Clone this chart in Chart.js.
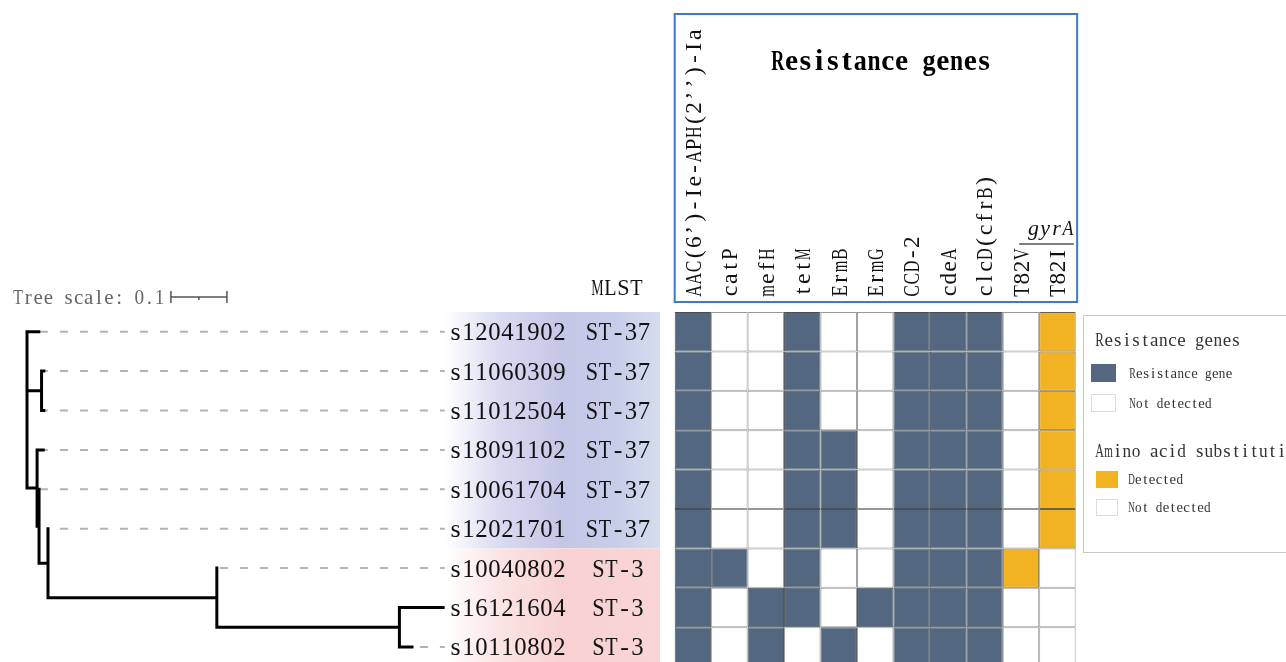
<!DOCTYPE html>
<html>
<head>
<meta charset="utf-8">
<title>Resistance genes</title>
<script src="https://cdn.jsdelivr.net/npm/chart.js@4.4.1/dist/chart.umd.min.js"></script>
<style>
  html, body { margin: 0; padding: 0; background: #fff; overflow: hidden; }
  canvas { display: block; }
</style>
</head>
<body>
<canvas id="chart" width="1286" height="662"></canvas>
<script>
const samples = ['s12041902', 's11060309', 's11012504', 's18091102', 's10061704', 's12021701', 's10040802', 's16121604', 's10110802']
const mlst = ['ST-37', 'ST-37', 'ST-37', 'ST-37', 'ST-37', 'ST-37', 'ST-3', 'ST-3', 'ST-3']

const genes = ['AAC(6’)-Ie-APH(2’’)-Ia', 'catP', 'mefH', 'tetM', 'ErmB', 'ErmG', 'CCD-2', 'cdeA', 'clcD(cfrB)']
// 1 = gene found, 0 = not detected (one row per sample)
const geneHits = [
  [1, 0, 0, 1, 0, 0, 1, 1, 1],
  [1, 0, 0, 1, 0, 0, 1, 1, 1],
  [1, 0, 0, 1, 0, 0, 1, 1, 1],
  [1, 0, 0, 1, 1, 0, 1, 1, 1],
  [1, 0, 0, 1, 1, 0, 1, 1, 1],
  [1, 0, 0, 1, 1, 0, 1, 1, 1],
  [1, 1, 0, 1, 0, 0, 1, 1, 1],
  [1, 0, 1, 1, 0, 1, 1, 1, 1],
  [1, 0, 1, 0, 1, 0, 1, 1, 1]
]
const gyrA = ['T82V', 'T82I']
const gyrAHits = [
  [0, 1], [0, 1], [0, 1], [0, 1], [0, 1], [0, 1], [1, 0], [0, 0], [0, 0]
]

// tree: internal nodes (0 = root) with parent index and distance from root
const nodeParent = [-1, 0, 0, 2, 3, 4, 5]
const nodeDepth = [0, 0.026, 0.018, 0.0215, 0.0375, 0.339, 0.665]
// leaves, same order as samples
const leafParent = [0, 1, 1, 2, 3, 4, 5, 6, 6]
const leafDepth = [0.021, 0.03, 0.03, 0.029, 0.023, 0.0375, 0.339, 0.743, 0.6875]
const treeScale = 0.1

// Layout
const W = 1286, H = 662
const TREE_X0 = 27, TREE_PX = 560
const ROW_TOP = 312, ROW_H = 39.4
const HEAT_X0 = 674.7, COL_W = 36.45
const DASH_END = 0.746, DASH_ORIGIN = 0.023
const BAND_X0 = 445, BAND_X1 = 660
const SCALE_START = 0.257, SCALE_Y = 297

const DARK = '#536880'
const ORANGE = '#f2b322'
const SERIF = '"Liberation Serif", "DejaVu Serif", serif'

// internal node y = middle of its children
const nodeY = [], nodeSpan = []
for (let n = nodeParent.length - 1; n >= 0; n--) {
  const ys = []
  leafParent.forEach((p, i) => { if (p === n) ys.push(i) })
  nodeParent.forEach((p, i) => { if (p === n) ys.push(nodeY[i]) })
  nodeSpan[n] = [Math.min(...ys), Math.max(...ys)]
  nodeY[n] = (nodeSpan[n][0] + nodeSpan[n][1]) / 2
}

const treePts = []
const gap = () => treePts.push({ x: 0, y: null })
nodeParent.forEach((p, n) => {
  treePts.push({ x: nodeDepth[n], y: nodeSpan[n][0] }, { x: nodeDepth[n], y: nodeSpan[n][1] })
  gap()
  if (p >= 0) {
    treePts.push({ x: nodeDepth[p], y: nodeY[n] }, { x: nodeDepth[n], y: nodeY[n] })
    gap()
  }
})
leafParent.forEach((p, i) => {
  treePts.push({ x: nodeDepth[p], y: i }, { x: leafDepth[i], y: i })
  gap()
})

function cells(value) {
  const pts = []
  geneHits.forEach((row, r) => row.forEach((v, c) => {
    if (v === value) pts.push({ x: [c - 0.5, c + 0.5], y: r })
  }))
  gyrAHits.forEach((row, r) => row.forEach((v, c) => {
    const cc = genes.length + c
    if (v === value) pts.push({ x: [cc - 0.5, cc + 0.5], y: r })
  }))
  return pts
}

const cellStyle = {
  type: 'bar',
  indexAxis: 'y',
  xAxisID: 'xHeat',
  yAxisID: 'yRow',
  barThickness: ROW_H,
  grouped: false,
  borderWidth: 1,
  borderSkipped: false,
  inflateAmount: 0
}

const dashSets = samples.map((s, i) => ({
  type: 'line',
  xAxisID: 'xTree',
  yAxisID: 'yRow',
  data: [{ x: leafDepth[i], y: i }, { x: DASH_END, y: i }],
  borderColor: '#b3b3b3',
  borderWidth: 2,
  borderDash: [8, 12],
  borderDashOffset: ((leafDepth[i] - DASH_ORIGIN) * TREE_PX) % 20,
  pointRadius: 0,
  order: 5
}))

// SimSun-like text: every glyph gets the same advance
function monoText(ctx, str, x, y, adv, align) {
  const total = adv * str.length
  const x0 = align === 'center' ? x - total / 2 : align === 'right' ? x - total : x
  ctx.save()
  ctx.textAlign = 'center'
  ctx.textBaseline = 'alphabetic'
  for (let i = 0; i < str.length; i++) {
    const ch = str[i]
    const w = ctx.measureText(ch).width
    const s = w > adv * 0.95 ? adv * 0.95 / w : 1
    ctx.save()
    ctx.translate(x0 + adv * (i + 0.5), y)
    ctx.scale(s, 1)
    ctx.fillText(ch, 0, 0)
    ctx.restore()
  }
  ctx.restore()
}

const decor = {
  id: 'decor',
  beforeDatasetsDraw(chart) {
    const ctx = chart.ctx
    const yRow = chart.scales.yRow
    const blueTop = yRow.getPixelForValue(-0.5)
    const split = yRow.getPixelForValue(5.5)
    const bottom = yRow.getPixelForValue(samples.length - 0.5)

    const blue = ctx.createLinearGradient(BAND_X0, 0, BAND_X1, 0)
    blue.addColorStop(0, '#ffffff')
    blue.addColorStop(0.25, '#d9dbf1')
    blue.addColorStop(0.55, '#c4c6e6')
    blue.addColorStop(0.8, '#c8cde9')
    blue.addColorStop(1, '#d6ddef')
    const pink = ctx.createLinearGradient(BAND_X0, 0, BAND_X1, 0)
    pink.addColorStop(0, '#ffffff')
    pink.addColorStop(0.25, '#fbe4e4')
    pink.addColorStop(0.55, '#f8d2d3')
    pink.addColorStop(1, '#f9d5d5')
    ctx.save()
    ctx.fillStyle = blue
    ctx.fillRect(BAND_X0, blueTop, BAND_X1 - BAND_X0, split - blueTop)
    ctx.fillStyle = pink
    ctx.fillRect(BAND_X0, split, BAND_X1 - BAND_X0, bottom - split)
    ctx.restore()
  },
  afterDatasetsDraw(chart) {
    const ctx = chart.ctx
    const { xTree, xHeat, yRow } = chart.scales
    ctx.save()

    // sample names and MLST
    ctx.fillStyle = '#111'
    ctx.font = '26px ' + SERIF
    samples.forEach((s, i) => {
      const y = yRow.getPixelForValue(i) + 8.5
      monoText(ctx, s, 449, y, 13, 'left')
      monoText(ctx, mlst[i], 618, y, 13, 'center')
    })
    ctx.font = '23px ' + SERIF
    monoText(ctx, 'MLST', 617, 295, 13, 'center')

    // column headers (rotated)
    ctx.font = '24px ' + SERIF
    genes.concat(gyrA).forEach((g, c) => {
      ctx.save()
      ctx.translate(xHeat.getPixelForValue(c), 297)
      ctx.rotate(-Math.PI / 2)
      monoText(ctx, g, 0, 7.8, 12.2, 'left')
      ctx.restore()
    })

    // gyrA bracket
    const gx0 = xHeat.getPixelForValue(genes.length - 0.05)
    const gx1 = xHeat.getPixelForValue(genes.length + gyrA.length - 0.55)
    ctx.strokeStyle = '#555'
    ctx.lineWidth = 1.5
    ctx.beginPath()
    ctx.moveTo(gx0, 244)
    ctx.lineTo(gx1, 244)
    ctx.stroke()
    ctx.font = 'italic 22px ' + SERIF
    monoText(ctx, 'gyrA', gx1, 235, 11.5, 'right')

    // header box and title
    const bx0 = xHeat.getPixelForValue(-0.5)
    const bx1 = xHeat.getPixelForValue(genes.length + gyrA.length - 0.5)
    ctx.strokeStyle = '#3b7cc2'
    ctx.lineWidth = 2
    ctx.strokeRect(bx0, 14, bx1 - bx0 + 1.5, 288)
    ctx.font = 'bold 30px ' + SERIF
    ctx.fillStyle = '#000'
    monoText(ctx, 'Resistance genes', 771, 70, 13.75, 'left')

    // tree scale
    const sx0 = xTree.getPixelForValue(SCALE_START)
    const sx1 = xTree.getPixelForValue(SCALE_START + treeScale)
    ctx.strokeStyle = '#555'
    ctx.lineWidth = 1.5
    ctx.beginPath()
    ctx.moveTo(sx0, SCALE_Y); ctx.lineTo(sx1, SCALE_Y)
    ctx.moveTo(sx0, SCALE_Y - 6); ctx.lineTo(sx0, SCALE_Y + 6)
    ctx.moveTo(sx1, SCALE_Y - 6); ctx.lineTo(sx1, SCALE_Y + 6)
    ctx.moveTo((sx0 + sx1) / 2, SCALE_Y); ctx.lineTo((sx0 + sx1) / 2, SCALE_Y + 3)
    ctx.stroke()
    ctx.fillStyle = '#666'
    ctx.font = '21px ' + SERIF
    monoText(ctx, 'Tree scale: ' + treeScale, 13, SCALE_Y + 7, 10.1, 'left')

    // legend
    ctx.strokeStyle = '#c8c8c8'
    ctx.lineWidth = 1
    ctx.strokeRect(1083.5, 315.5, 240, 237)
    ctx.fillStyle = '#333'
    ctx.font = '19px ' + SERIF
    monoText(ctx, 'Resistance genes', 1095, 346, 9.1, 'left')
    monoText(ctx, 'Amino acid substitutions', 1095, 457, 9.1, 'left')
    const items = [
      [DARK, 'Resistance gene', 1091, 364, 25, 18, 1129],
      ['#fff', 'Not detected', 1091, 394, 25, 18, 1129],
      [ORANGE, 'Detected', 1096, 471, 22, 17, 1128],
      ['#fff', 'Not detected', 1096, 499, 22, 17, 1128]
    ]
    ctx.font = '15px ' + SERIF
    items.forEach(([col, label, x, y, w, h, tx]) => {
      ctx.fillStyle = col
      ctx.fillRect(x, y, w, h)
      ctx.strokeStyle = col === '#fff' ? '#dddddd' : col
      ctx.strokeRect(x + 0.5, y + 0.5, w - 1, h - 1)
      ctx.fillStyle = '#333'
      monoText(ctx, label, tx, y + h / 2 + 4.8, 6.9, 'left')
    })
    ctx.restore()
  }
}

const hiddenAxis = { type: 'linear', display: false, offset: false, grace: 0, ticks: { display: false }, grid: { display: false } }

new Chart(document.getElementById('chart'), {
  type: 'bar',
  data: {
    datasets: [
      {
        type: 'line',
        xAxisID: 'xTree',
        yAxisID: 'yRow',
        data: treePts,
        borderColor: '#000',
        borderWidth: 3,
        borderCapStyle: 'square',
        borderJoinStyle: 'miter',
        spanGaps: false,
        pointRadius: 0,
        order: 1
      },
      { ...cellStyle, data: cells(1).filter(p => p.x[0] < genes.length - 0.5), backgroundColor: DARK, borderColor: '#4a4f55', order: 3 },
      { ...cellStyle, data: cells(1).filter(p => p.x[0] > genes.length - 1), backgroundColor: ORANGE, borderColor: '#6e6246', order: 3 },
      { ...cellStyle, data: cells(0), backgroundColor: '#ffffff', borderColor: '#979797', order: 4 },
      ...dashSets
    ]
  },
  options: {
    responsive: false,
    animation: false,
    devicePixelRatio: 1,
    layout: { padding: 0 },
    plugins: {
      legend: { display: false },
      tooltip: { enabled: false }
    },
    scales: {
      xTree: { ...hiddenAxis, min: -TREE_X0 / TREE_PX, max: (W - TREE_X0) / TREE_PX },
      xHeat: { ...hiddenAxis, min: -0.5 - HEAT_X0 / COL_W, max: -0.5 + (W - HEAT_X0) / COL_W },
      yRow: { ...hiddenAxis, reverse: true, min: -0.5 - ROW_TOP / ROW_H, max: -0.5 + (H - ROW_TOP) / ROW_H }
    }
  },
  plugins: [decor]
})
</script>
</body>
</html>
